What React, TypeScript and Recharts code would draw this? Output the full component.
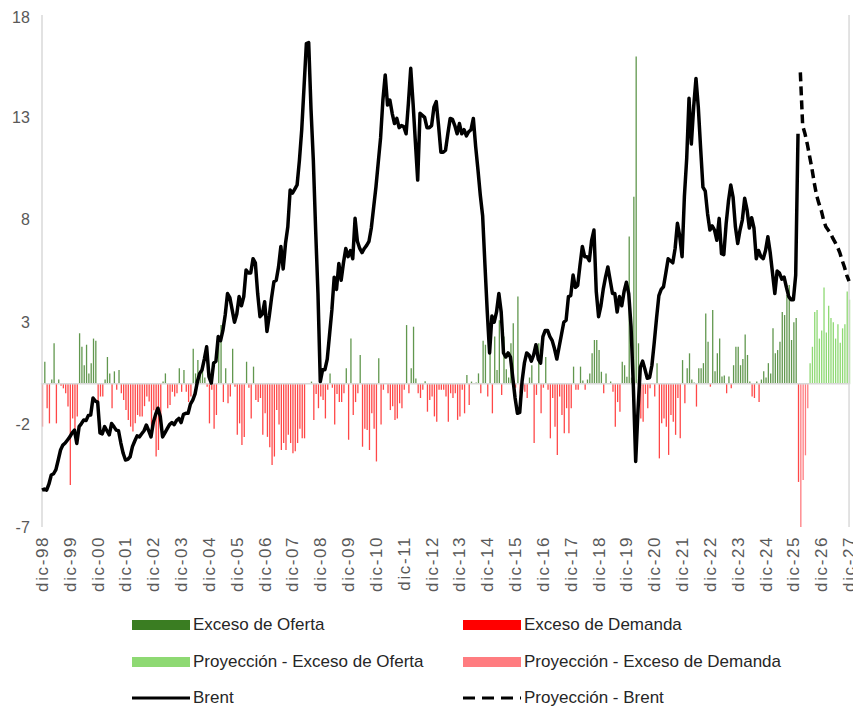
import React from "react";
import { ComposedChart, Bar, Line, XAxis, YAxis, ReferenceLine, Legend } from "recharts";

// Month names (Spanish) and y ticks
const MONTHS = ["ene", "feb", "mar", "abr", "may", "jun", "jul", "ago", "sep", "oct", "nov", "dic"];
const Y_TICKS = [-7, -2, 3, 8, 13, 18];
const FIRST_YEAR = 1998; // first category: dic-98
const N_MONTHS = 349; // dic-98 .. dic-27

// Brent (historical, scaled) from dic-98, monthly
const brentHist = [
  -5.2, -5.15, -5.2, -4.9, -4.46, -4.4, -4.2, -3.73, -3.24, -3.0, -2.9, -2.75,
  -2.6, -2.4, -2.27, -2.92, -2.1, -1.95, -1.78, -1.8, -1.55, -1.53, -0.7, -0.85,
  -0.9, -2.4, -2.45, -2.1, -2.3, -2.5, -1.95, -2.1, -2.27, -2.3, -2.9, -3.4,
  -3.73, -3.7, -3.57, -3.08, -2.8, -2.55, -2.6, -2.45, -2.3, -2.02, -2.3, -2.6,
  -1.9, -1.5, -1.2, -1.6, -2.6, -2.4, -2.2, -2.0, -1.9, -2.0, -1.8, -1.7,
  -1.9, -1.5, -1.45, -1.45, -1.0, -0.8, -0.5, 0.1, 0.5, 0.67, 1.2, 1.8,
  0.34, 0.03, 1.0, 1.1, 2.3, 2.1, 2.6, 3.35, 4.4, 4.2, 3.6, 3.0,
  3.4, 4.25, 3.8, 4.25, 5.55, 5.4, 5.4, 6.1, 5.9, 4.4, 3.27, 3.4,
  4.0, 2.55, 3.3, 4.2, 4.98, 5.05, 5.7, 6.7, 5.6, 6.84, 7.66, 9.45,
  9.3, 9.5, 9.7, 10.9, 12.4, 14.5, 16.6, 16.65, 13.4, 10.9, 7.5, 4.4,
  0.1, 0.68, 0.68, 1.2, 2.4, 3.6, 5.2, 4.6, 5.87, 5.05, 5.9, 6.6,
  6.2, 6.5, 6.1, 8.07, 6.95, 6.6, 6.4, 6.6, 6.75, 6.95, 7.6, 8.6,
  9.6, 10.8, 12.0, 13.85, 15.07, 13.6, 13.85, 13.2, 12.7, 12.95, 12.5, 12.6,
  12.55, 12.2, 13.7, 15.4, 13.7, 11.8, 9.94, 13.2, 13.1, 13.0, 12.5, 12.5,
  12.6, 13.5, 13.77, 12.6, 11.3, 11.3, 11.4, 12.2, 12.95, 12.9, 12.6, 12.2,
  12.7, 12.2, 12.4, 12.1, 12.3, 12.4, 12.95, 11.57, 10.43, 9.2, 8.2, 5.8,
  3.5, 1.5, 3.3, 3.0, 3.5, 4.4, 3.5, 1.5, 1.3, 1.5, 1.3, 0.3,
  -0.7, -1.45, -1.4, 0.1, 1.0, 1.5, 1.4, 1.1, 1.4, 1.9, 1.2, 1.0,
  2.3, 2.6, 2.6, 2.3, 2.1, 1.7, 1.2, 1.8, 2.4, 3.0, 3.1, 4.25,
  4.3, 5.3, 4.7, 4.8, 5.8, 6.7, 6.2, 6.2, 6.0, 7.0, 7.5, 4.5,
  3.27, 3.8, 4.6, 5.2, 5.7, 5.05, 4.4, 4.4, 3.5, 4.25, 3.8, 4.5,
  4.95, 4.4, 2.78, -0.15, -3.8, -1.3, 0.8, 1.1, 0.7, 0.26, 0.3, 0.9,
  2.0, 3.2, 4.3, 4.6, 4.73, 5.4, 6.1, 6.0, 5.9, 6.6, 7.83, 7.2,
  6.2, 9.13, 11.0, 13.93, 11.7, 13.5, 14.9, 13.5, 11.5, 9.6, 9.4, 8.3,
  7.5, 7.7, 7.5, 7.0, 8.07, 6.35, 6.3, 7.8, 8.9, 9.7, 9.1, 7.66,
  6.84, 7.5, 8.0, 9.05, 8.5, 7.6, 8.1, 7.6, 6.1, 6.5, 6.2, 6.1,
  6.5, 7.17, 6.4, 5.4, 4.4, 5.5, 5.4, 5.1, 5.2, 4.7, 4.25, 4.1,
  4.1, 5.3, 12.2,
];

// Brent projection (from mar-26 to dic-27)
const brentProj = [
  15.2, 12.6, 12.2, 11.7, 11.1, 10.5, 9.8, 9.2, 8.8, 8.47, 8.0,
  7.66, 7.5, 7.34, 7.1, 6.9, 6.68, 6.4, 6.03, 5.7, 5.3, 5.0,
];

// Supply - demand balance (historical), monthly from dic-98
const balanceHist = [
  -2.1, 1.07, -1.2, -1.94, 0.2, 1.97, -1.94, 0.2, -0.1, -0.23, -0.47, -1.12,
  -4.95, -1.7, -2.6, -1.6, 2.46, 1.8, 0.9, 1.9, 0.5, 1.0, 2.2, 2.1,
  -1.12, -0.63, -0.63, 0.2, 1.3, 0.5, -1.2, 0.6, -0.3, 0.67, -0.47, -0.8,
  -1.29, -1.77, -2.1, -2.34, -1.94, -1.53, -1.6, -1.6, -1.1, -0.63, -0.87, -2.1,
  -1.3, -3.56, -3.24, -1.94, 0.1, 0.5, -1.2, -1.04, -0.4, -0.63, -0.47, 0.75,
  -0.4, 0.67, -0.4, -0.9, -0.63, 1.7, 0.5, 1.15, 0.6, 0.9, 0.3, -0.15,
  -1.94, -0.3, -2.2, -1.53, 1.97, 2.86, -0.9, 0.75, -0.96, -0.63, 1.7, -0.15,
  -2.5, -1.94, -3.0, -2.6, 1.07, -0.2, -1.7, 0.83, -0.8, -0.9, -0.7, -2.5,
  -1.45, -2.6, -3.1, -3.97, -3.56, -1.29, -2.0, -3.24, -2.9, -3.24, -2.5, -2.9,
  -3.4, -3.3, -2.9, -2.2, -2.67, -2.67, 0, 0, 0.1, -1.77, -0.5, -1.2,
  -0.63, -0.8, -1.7, -0.3, 0.5, -0.2, -2.0, -0.5, -0.9, -0.9, -0.47, 0.75,
  -2.74, 2.2, -1.53, -0.9, -0.47, 1.4, -3.08, -2.2, -2.26, -3.24, -1.45, -2.2,
  -3.8, 1.24, -2.0, -0.3, 0, -0.47, -1.29, -1.1, -1.77, -1.7, -0.96, -1.2,
  -0.3, 2.86, -0.47, 0.75, 2.78, 0.25, -0.47, -0.7, -0.3, 0.12, -1.37, -0.8,
  -0.63, -1.6, -1.86, -0.3, -0.3, -0.3, -0.63, -1.86, -0.47, -0.7, -0.47, -1.77,
  -1.6, -0.3, -1.45, 0.42, -1.04, 0.1, 0, 0.05, 0.5, -0.47, 2.1, 1.9,
  -0.63, 2.2, -1.45, 2.3, 0.67, 3.1, -0.55, 2.3, 0.7, 0.3, 1.97, 2.95,
  -0.2, 4.25, -0.47, -0.3, -0.4, -0.7, 0.3, 0.9, -2.9, -0.55, 1.97, -1.45,
  -0.2, 1.3, -0.3, -2.67, -0.7, -2.1, -3.48, -0.63, -1.53, -2.42, -1.2, -2.42,
  -1.2, 0.83, -0.3, -0.3, 0.83, 0.15, -0.3, 0.2, 0.5, 1.48, 2.13, 2.13,
  1.64, 0.58, -0.47, 0.5, 0, 0.1, -0.4, -2.1, -0.9, -1.37, 1.07, 0.9,
  0.34, 7.18, 0.3, 9.13, 15.97, 1.97, -1.7, -1.86, -0.5, -1.2, -0.23, 0,
  -0.63, 1.0, -3.65, -1.94, -1.7, -2.1, -3.48, -1.53, -1.86, -2.5, -0.7, -2.67,
  1.15, -0.96, 0.75, 1.48, 0.2, 0.05, -1.12, 0.75, 0.75, 1.0, 3.43, 2.05,
  -0.15, 3.6, 0.6, 1.48, 2.2, 0.35, 0.4, -0.47, 0.35, -0.23, 0.9, 1.8,
  1.8, 0.9, 1.2, 2.4, 1.4, 0.1, -0.63, -0.7, 0.1, -0.9, 0.2, 0.6,
  0.3, 1.0, 0.5, 2.7, 1.48, 1.64, 2.05, 3.5, 3.35, 4.33, 4.82, 2.13,
  3.0, 3.2, -4.8,
];

// Supply - demand balance (projection), from mar-26 to dic-27
const balanceProj = [
  -7.0, -4.7, -3.5, -1.2, 1.0, 1.8, 3.5, 3.6, 2.2, 2.6, 4.7,
  2.5, 3.8, 3.2, 3.0, 2.2, 2.9, 2.0, 2.7, 2.9, 4.5, 4.1,
];

const COLORS = {
  ofer: "#3A7D22",
  dem: "#FF0000",
  pofer: "#8ED973",
  pdem: "#FF7C80",
  axis: "#D9D9D9",
  text: "#595959",
};

const labels = Array.from({ length: N_MONTHS }, (_, i) => {
  const k = 11 + i;
  const m = k % 12;
  const y = (FIRST_YEAR + Math.floor(k / 12)) % 100;
  return `${MONTHS[m]}-${String(y).padStart(2, "0")}`;
});

const nHist = balanceHist.length;
const data = labels.map((label, i) => {
  const h = i < nHist ? balanceHist[i] : null;
  const p = i >= nHist ? balanceProj[i - nHist] : null;
  return {
    label,
    ofer: h !== null && h > 0 ? h : null,
    dem: h !== null && h < 0 ? h : null,
    pofer: p !== null && p > 0 ? p : null,
    pdem: p !== null && p < 0 ? p : null,
    brent: i < brentHist.length ? brentHist[i] : null,
    brentProj: i >= brentHist.length ? brentProj[i - brentHist.length] : null,
  };
});

const XTick = (props: any) => {
  const { x, y, payload } = props;
  return (
    <g transform={`translate(${x},${y})`}>
      <text
        transform="rotate(-90)"
        textAnchor="end"
        dy="0.35em"
        fill={COLORS.text}
        fontSize={17}
        letterSpacing={1.6}
        fontFamily="'Liberation Sans', Arial, sans-serif"
      >
        {payload.value}
      </text>
    </g>
  );
};

const legendItems = [
  { name: "Exceso de Oferta", type: "rect", color: COLORS.ofer, col: 0, row: 0 },
  { name: "Exceso de Demanda", type: "rect", color: COLORS.dem, col: 1, row: 0 },
  { name: "Proyección - Exceso de Oferta", type: "rect", color: COLORS.pofer, col: 0, row: 1 },
  { name: "Proyección - Exceso de Demanda", type: "rect", color: COLORS.pdem, col: 1, row: 1 },
  { name: "Brent", type: "line", color: "#000", col: 0, row: 2 },
  { name: "Proyección - Brent", type: "dash", color: "#000", col: 1, row: 2 },
];

const COL_X = [124, 455];
const ROW_Y = [28, 65, 101];

const LegendContent = () => (
  <div
    style={{
      position: "relative",
      width: 853,
      height: 111,
      fontFamily: "'Liberation Sans', Arial, sans-serif",
      fontSize: 17,
      color: "#262626",
    }}
  >
    {legendItems.map((it) => (
      <div
        key={it.name}
        style={{
          position: "absolute",
          left: COL_X[it.col],
          top: ROW_Y[it.row] - 11,
          height: 22,
          display: "flex",
          alignItems: "center",
          whiteSpace: "nowrap",
        }}
      >
        <svg width={58} height={12} style={{ marginRight: 3 }}>
          {it.type === "rect" && <rect x={0} y={1} width={58} height={10} fill={it.color} />}
          {it.type === "line" && <line x1={0} x2={58} y1={6} y2={6} stroke={it.color} strokeWidth={3} />}
          {it.type === "dash" && (
            <line x1={0} x2={58} y1={6} y2={6} stroke={it.color} strokeWidth={3} strokeDasharray="12 7" />
          )}
        </svg>
        <span>{it.name}</span>
      </div>
    ))}
  </div>
);

export default function App() {
  return (
    <div style={{ width: 853, height: 700 }}>
      <ComposedChart
        width={853}
        height={700}
        data={data}
        stackOffset="sign"
        margin={{ top: 7, right: 10.8, bottom: 0, left: 0 }}
      >
        <XAxis
          dataKey="label"
          interval={11}
          tick={<XTick />}
          tickLine={false}
          axisLine={false}
          tickSize={0}
          tickMargin={9}
          height={70}
        />
        <YAxis
          domain={[-7, 18]}
          ticks={Y_TICKS}
          width={32.84}
          axisLine={false}
          tickLine={false}
          tickSize={0}
          tickMargin={11}
          allowDataOverflow
          tick={{ fill: COLORS.text, fontSize: 16, fontFamily: "'Liberation Sans', Arial, sans-serif" }}
        />
        <ReferenceLine y={0} stroke={COLORS.axis} strokeWidth={1.5} />
        <ReferenceLine x={labels[0]} stroke={COLORS.axis} strokeWidth={1.5} />
        <ReferenceLine x={labels[N_MONTHS - 1]} stroke={COLORS.axis} strokeWidth={1.5} />
        <Bar dataKey="ofer" name="Exceso de Oferta" stackId="s" fill={COLORS.ofer} fillOpacity={0.8} barSize={1.3} isAnimationActive={false} />
        <Bar dataKey="dem" name="Exceso de Demanda" stackId="s" fill={COLORS.dem} fillOpacity={0.72} barSize={1.3} isAnimationActive={false} />
        <Bar dataKey="pofer" name="Proyección - Exceso de Oferta" stackId="s" fill={COLORS.pofer} barSize={1.3} isAnimationActive={false} />
        <Bar dataKey="pdem" name="Proyección - Exceso de Demanda" stackId="s" fill={COLORS.pdem} barSize={1.3} isAnimationActive={false} />
        <Line
          dataKey="brent"
          name="Brent"
          stroke="#000"
          strokeWidth={3.5}
          dot={false}
          activeDot={false}
          strokeLinejoin="round"
          isAnimationActive={false}
        />
        <Line
          dataKey="brentProj"
          name="Proyección - Brent"
          stroke="#000"
          strokeWidth={3.5}
          strokeDasharray="9 5"
          dot={false}
          activeDot={false}
          isAnimationActive={false}
        />
        <Legend
          verticalAlign="bottom"
          content={<LegendContent />}
          wrapperStyle={{ left: 0, top: 589, width: 853, height: 111 }}
        />
      </ComposedChart>
    </div>
  );
}
